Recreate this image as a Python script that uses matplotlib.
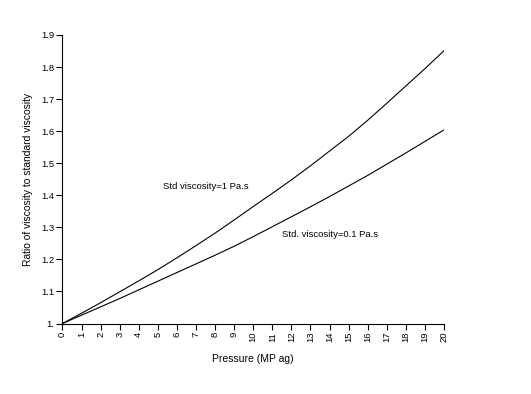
import matplotlib
matplotlib.use("Agg")
import matplotlib.pyplot as plt
from matplotlib.ticker import FixedLocator

pressure = list(range(0, 21))
ratio_1pas = [1.0, 1.032, 1.065, 1.099, 1.133, 1.168, 1.205, 1.243, 1.282, 1.323,
              1.365, 1.406, 1.448, 1.492, 1.538, 1.584, 1.634, 1.687, 1.741, 1.795, 1.851]
ratio_01pas = [1.0, 1.026, 1.052, 1.078, 1.105, 1.132, 1.159, 1.186, 1.213, 1.241,
               1.271, 1.302, 1.333, 1.364, 1.396, 1.429, 1.462, 1.497, 1.532, 1.568, 1.604]
y_ticks = [1.0, 1.1, 1.2, 1.3, 1.4, 1.5, 1.6, 1.7, 1.8, 1.9]
y_tick_labels = ["1.", "1.1", "1.2", "1.3", "1.4", "1.5", "1.6", "1.7", "1.8", "1.9"]

plt.rcParams['font.family'] = ['Liberation Sans', 'DejaVu Sans']

W, H = 531, 394
fig = plt.figure(figsize=(W / 100, H / 100), dpi=100)
left, right, top, bottom = 62.5, 444, 35, 323.5
ax = fig.add_axes([left / W, 1 - bottom / H, (right - left) / W, (bottom - top) / H])

ax.plot(pressure, ratio_1pas, color='black', lw=0.8)
ax.plot(pressure, ratio_01pas, color='black', lw=0.8)

ax.set_xlim(0, 20)
ax.set_ylim(1.0, 1.9)
ax.xaxis.set_major_locator(FixedLocator(pressure))
ax.set_xticklabels([str(p) for p in pressure], rotation=90, fontsize=6.8)
ax.yaxis.set_major_locator(FixedLocator(y_ticks))
ax.set_yticklabels(y_tick_labels, fontsize=6.8)
ax.tick_params(direction='out', length=4, width=0.8, pad=2)

for s in ['top', 'right']:
    ax.spines[s].set_visible(False)
for s in ['left', 'bottom']:
    ax.spines[s].set_linewidth(0.8)

ax.set_xlabel("Pressure (MP ag)", fontsize=7.5, labelpad=8)
ax.set_ylabel("Ratio of viscosity to standard viscosity", fontsize=7.4, labelpad=6)

ax.text(5.26, 1.428, "Std viscosity=1 Pa.s", fontsize=6.8, va='center', ha='left')
ax.text(11.5, 1.278, "Std. viscosity=0.1 Pa.s", fontsize=6.8, va='center', ha='left')

fig.savefig("out.png", dpi=100)
